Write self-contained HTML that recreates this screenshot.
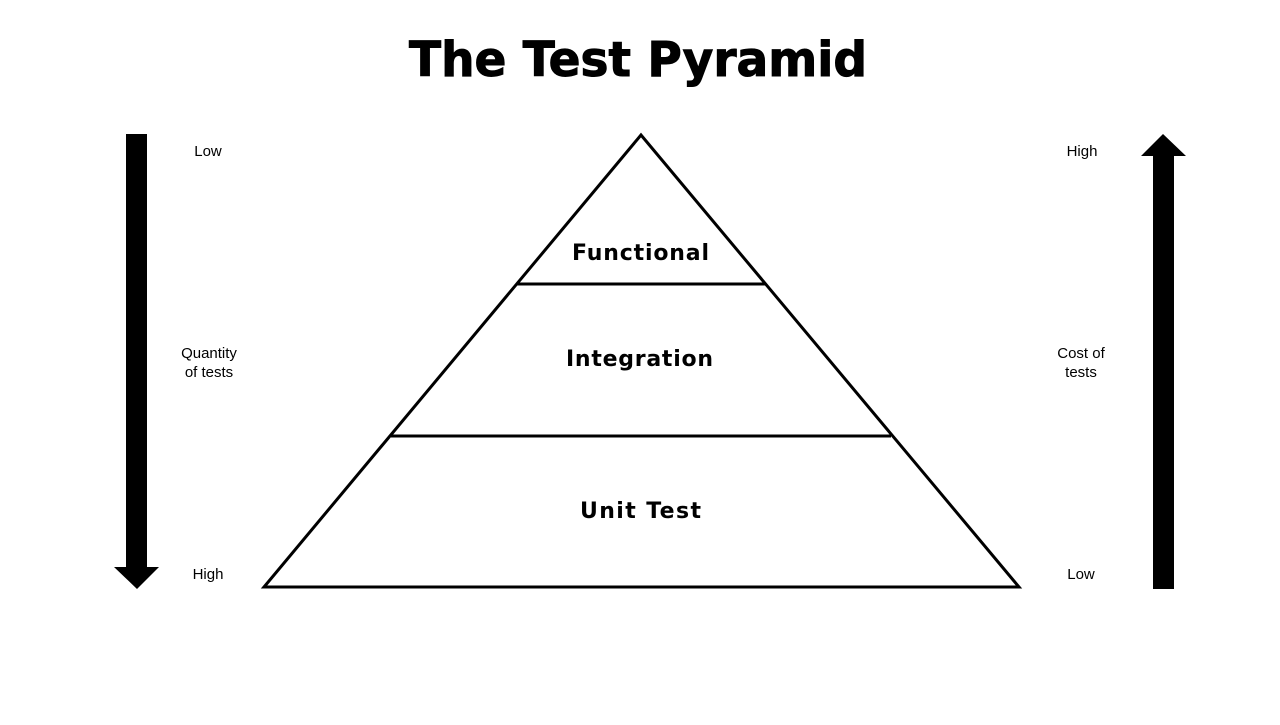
<!DOCTYPE html>
<html><head><meta charset="utf-8"><style>
html,body{margin:0;padding:0;background:#fff;}
body{width:1280px;height:720px;overflow:hidden;}
</style></head><body>
<svg width="1280" height="720" xmlns="http://www.w3.org/2000/svg" font-family="Liberation Sans, Arial, sans-serif">
<text x="409" y="76" font-family="DejaVu Sans, sans-serif" font-size="48" font-weight="bold" textLength="458" lengthAdjust="spacingAndGlyphs" stroke="#000" stroke-width="1">The Test Pyramid</text>
<polygon points="641,135 264,587 1019,587" fill="none" stroke="#000" stroke-width="3"/>
<line x1="517" y1="284" x2="765" y2="284" stroke="#000" stroke-width="3"/>
<line x1="391" y1="436" x2="891" y2="436" stroke="#000" stroke-width="3"/>
<g font-size="22" font-weight="bold" font-family="DejaVu Sans, sans-serif" lengthAdjust="spacingAndGlyphs">
<text x="572" y="260" textLength="137">Functional</text>
<text x="566" y="366" textLength="147">Integration</text>
<text x="580" y="518" textLength="121">Unit Test</text>
</g>
<polygon points="126,134 147,134 147,567 159,567 137,589 114,567 126,567" fill="#000"/>
<polygon points="1163,134 1186,156 1174,156 1174,589 1153,589 1153,156 1141,156" fill="#000"/>
<g font-size="15" text-anchor="middle">
<text x="208" y="156">Low</text>
<text x="209" y="358">Quantity</text>
<text x="209" y="377">of tests</text>
<text x="208" y="579">High</text>
<text x="1082" y="156">High</text>
<text x="1081" y="358">Cost of</text>
<text x="1081" y="377">tests</text>
<text x="1081" y="579">Low</text>
</g>
</svg>
</body></html>
